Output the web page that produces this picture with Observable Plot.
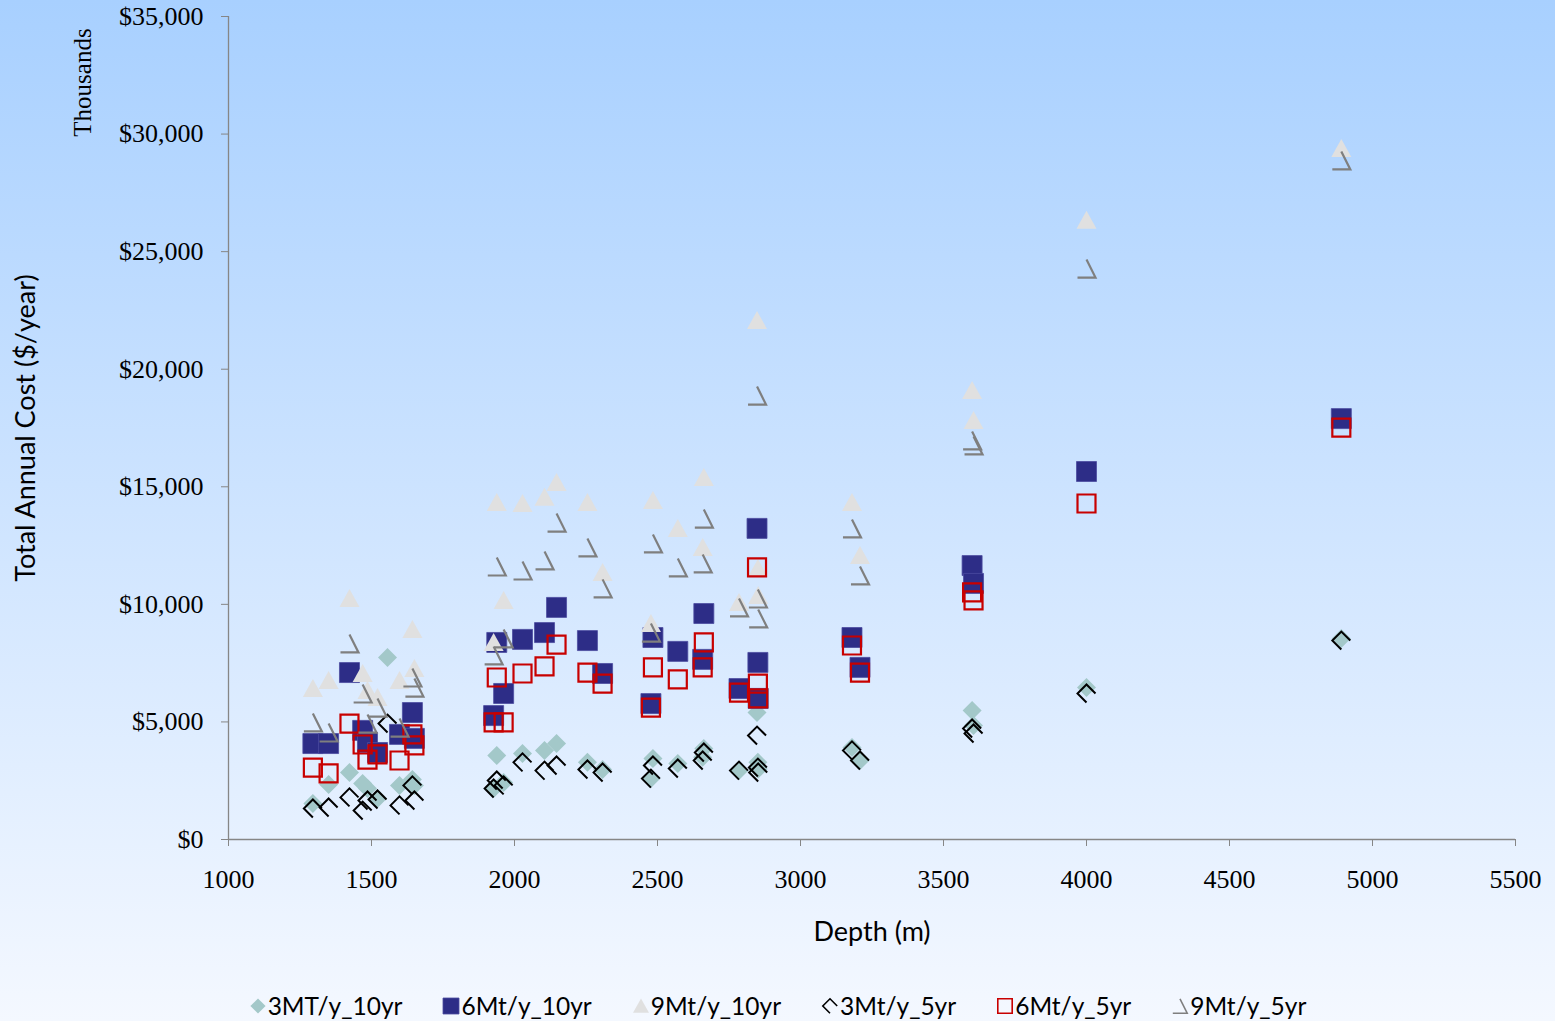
<!DOCTYPE html>
<html><head><meta charset="utf-8">
<script src="https://cdn.jsdelivr.net/npm/d3@7"></script>
<script src="https://cdn.jsdelivr.net/npm/@observablehq/plot@0.6"></script>
<style>
html,body{margin:0;padding:0;}
body{width:1555px;height:1021px;overflow:hidden;background:linear-gradient(to bottom,#A8D0FF 0%,#F4F8FF 100%);position:relative;font-family:Lato,sans-serif;}
#chart{position:absolute;left:0;top:0;}
#legend{position:absolute;left:0;width:1555px;top:991px;display:flex;justify-content:center;gap:40px;font-size:24.5px;color:#000;}
.item{display:flex;align-items:center;gap:1px;white-space:nowrap;}
.item svg{display:block;}
</style></head><body>
<div id="chart"></div><div id="legend"></div>
<script>
// Depth (m) of each case
const depth = [1295,1350,1423,1469,1486,1521,1556,1598,1643,1650,
  1938,1927,1962,2028,2105,2147,2255,2308,
  2484,2477,2571,2662,2658,2785,2848,2851,2852,
  3180,3208,3600,3605,4000,4891];
// Total annual cost ($ thousands / year) per series
const t3_10 = [1530,2340,2850,2380,2170,1740,7740,2300,2550,2300,
  3570,2170,2420,3660,3790,4080,3280,2980,
  3440,2590,3230,3870,3500,2930,5400,3280,3000,
  3910,3360,5490,4850,6460,8550];
const m6_10 = [4080,4080,7100,4640,4130,3700,null,4470,5400,4300,
  8380,5270,6210,8510,8800,9870,8460,7060,
  8590,5780,8000,9610,7660,6420,13230,7530,6000,
  8590,7320,11650,10890,15650,17900];
const m9_10 = [6420,6760,10250,7060,6340,6040,null,6760,8930,7270,
  14330,8380,10160,14290,14550,15180,14330,11360,
  14420,9190,13230,15400,12420,10080,22070,11530,10380,
  14330,12080,19100,17820,26330,29390];
const m3_5 = [1320,1360,1790,1230,1660,1700,4930,1450,2300,1660,
  2510,2170,2300,3280,2930,3150,2980,2850,
  3150,2590,3020,3700,3360,2930,4420,3060,2850,
  3790,3360,4720,4510,6210,8460];
const m6_5 = [3060,2810,4930,4040,3400,3620,null,3360,4470,4000,
  6890,4980,4980,7060,7360,8290,7100,6630,
  7320,5610,6810,8380,7320,6250,11570,6630,6000,
  8250,7100,10510,10170,14290,17520];
const m9_5 = [4980,4550,8340,6210,4930,5610,null,4760,6890,6460,
  11610,7830,8550,11440,11870,13480,12420,10680,
  12590,8800,11570,13650,11740,9870,18880,10250,9400,
  13230,11230,16970,16760,24280,28880];
const seriesNames = ["3MT/y_10yr","6Mt/y_10yr","9Mt/y_10yr","3Mt/y_5yr","6Mt/y_5yr","9Mt/y_5yr"];
const xTicks = [1000,1500,2000,2500,3000,3500,4000,4500,5000,5500];
const yTicks = [0,5000,10000,15000,20000,25000,30000,35000];

// custom marker shapes, scaled by r
const rad = size => Math.sqrt(size / Math.PI);
const symSquare = {draw(c, size){ const h = rad(size); c.rect(-h,-h,2*h,2*h); }};
const symSquareSm = {draw(c, size){ const h = rad(size)*0.9; c.rect(-h,-h,2*h,2*h); }};
const symDiamond = {draw(c, size){ const h = rad(size)*0.95; c.moveTo(0,-h); c.lineTo(h,0); c.lineTo(0,h); c.lineTo(-h,0); c.closePath(); }};
const symTri = {draw(c, size){ const h = rad(size); c.moveTo(0,-0.95*h); c.lineTo(h,0.85*h); c.lineTo(-h,0.85*h); c.closePath(); }};
const symChevK = {draw(c, size){ const h = rad(size)*0.9; c.moveTo(0,h); c.lineTo(-h,0); c.lineTo(0,-h); c.lineTo(h,0); }};
const symChevG = {draw(c, size){ const h = rad(size)*0.9; c.moveTo(0,-h); c.lineTo(h,h); c.lineTo(-h,h); }};

const styles = [
  {data:t3_10, symbol:symDiamond, fill:"#A3C8C9", stroke:"none", sw:0},
  {data:m6_10, symbol:symSquare, fill:"#2D2D87", stroke:"#4B4BA0", sw:0.8},
  {data:m9_10, symbol:symTri, fill:"#E0E0E0", stroke:"none", sw:0},
  {data:m3_5, symbol:symChevK, fill:"none", stroke:"#000000", sw:2},
  {data:m6_5, symbol:symSquareSm, fill:"none", stroke:"#C80000", sw:2.2},
  {data:m9_5, symbol:symChevG, fill:"none", stroke:"#7F7F7F", sw:2.2}
];

const rowsOf = arr => depth.map((d,i)=>({depth:d, value:arr[i]})).filter(r=>r.value!=null);
const serif = "'Liberation Serif','Times New Roman',serif";
const sans = "Lato, 'Open Sans', sans-serif";

const chart = Plot.plot({
  width:1555, height:980,
  marginLeft:228, marginRight:40, marginTop:16, marginBottom:141,
  style:{background:"transparent", overflow:"visible"},
  x:{domain:[1000,5500], label:null},
  y:{domain:[0,35000], label:null},
  marks:[
    Plot.axisY(yTicks, {tickSize:7, tickPadding:18, stroke:"#868686", fill:"black", fontFamily:serif, fontSize:26, label:null,
      tickFormat:d=>"$"+d3.format(",")(d)}),
    Plot.axisX(xTicks, {tickSize:7, tickPadding:23, stroke:"#868686", fill:"black", fontFamily:serif, fontSize:26, label:null,
      tickFormat:d=>String(d)}),
    Plot.ruleX([1000], {stroke:"#868686", strokeWidth:1.3}),
    Plot.ruleY([0], {stroke:"#868686", strokeWidth:1.3}),
    ...styles.map(s => Plot.dot(rowsOf(s.data), {x:"depth", y:"value", r:10, symbol:s.symbol, fill:s.fill, stroke:s.stroke, strokeWidth:s.sw})),
    Plot.text(["Total Annual Cost ($/year)"], {text:d=>d, frameAnchor:"left", textAnchor:"middle", lineAnchor:"middle", dx:-202, rotate:-90, fontFamily:sans, fontSize:27, fill:"black"}),
    Plot.text(["Thousands"], {text:d=>d, frameAnchor:"top-left", textAnchor:"middle", lineAnchor:"middle", dx:-146, dy:66, rotate:-90, fontFamily:serif, fontSize:25, fill:"black"}),
    Plot.text(["Depth (m)"], {text:d=>d, frameAnchor:"bottom", textAnchor:"middle", lineAnchor:"middle", dy:93, fontFamily:sans, fontSize:27, fill:"black"})
  ]
});
document.getElementById("chart").appendChild(chart);

// legend
const leg = d3.select("#legend");
styles.forEach((s,i) => {
  const it = leg.append("div").attr("class","item");
  const sv = it.append("svg").attr("width",18).attr("height",22);
  sv.append("path").attr("transform","translate(9,11)")
    .attr("d", d3.symbol(s.symbol, 8*8*Math.PI)())
    .attr("fill", s.fill).attr("stroke", s.stroke).attr("stroke-width", s.sw ? Math.min(s.sw,1.6) : 0);
  it.append("span").text(seriesNames[i]);
});
</script>
</body></html>
